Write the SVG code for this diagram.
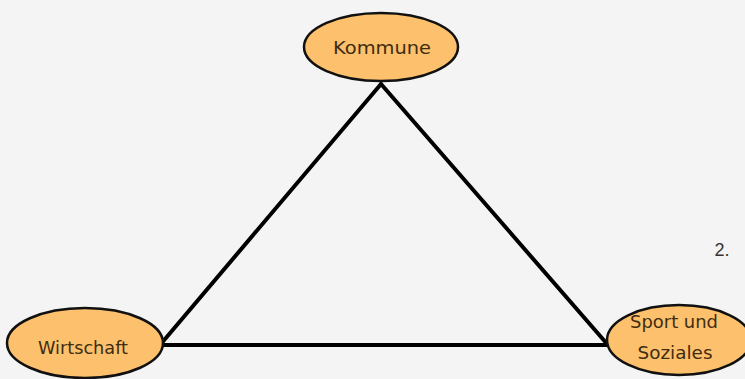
<svg xmlns="http://www.w3.org/2000/svg" width="745" height="379" viewBox="0 0 745 379">
<style>
.node ellipse{fill:#FDC06C;stroke:#111;stroke-width:2.5}
.node text{font-family:"DejaVu Sans","Liberation Sans",sans-serif;font-size:17.5px;fill:#3f2d10;text-anchor:middle}
.conn line{stroke:#000;stroke-width:4;stroke-linecap:round}
</style>
<rect width="745" height="379" fill="#F4F4F4"/>
<g id="connectors" class="conn">
<line x1="381" y1="84" x2="160" y2="345"/>
<line x1="381" y1="84" x2="608" y2="345"/>
<line x1="160" y1="345" x2="608" y2="345"/>
</g>
<g id="kommune" class="node">
<ellipse cx="381" cy="47" rx="77" ry="34"/>
<text x="382" y="54" textLength="98" lengthAdjust="spacingAndGlyphs">Kommune</text>
</g>
<g id="wirtschaft" class="node">
<ellipse cx="85" cy="343" rx="78" ry="35"/>
<text x="83" y="354" textLength="90" lengthAdjust="spacingAndGlyphs">Wirtschaft</text>
</g>
<g id="sport" class="node">
<ellipse cx="679" cy="340" rx="72" ry="35"/>
<text x="674" y="328" textLength="88" lengthAdjust="spacingAndGlyphs">Sport und</text>
<text x="675" y="359" textLength="75" lengthAdjust="spacingAndGlyphs">Soziales</text>
</g>
<text x="722" y="256" font-family="Liberation Sans, sans-serif" font-size="18" fill="#333" text-anchor="middle">2.</text>
</svg>
